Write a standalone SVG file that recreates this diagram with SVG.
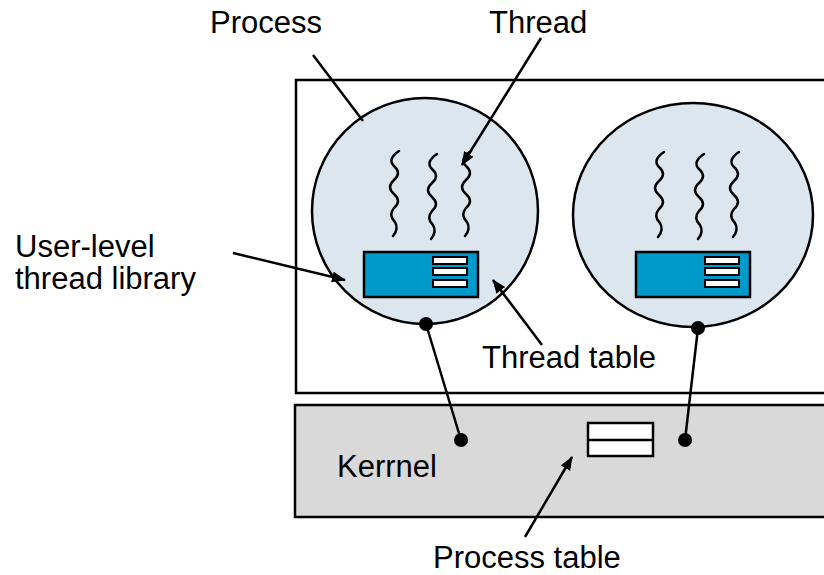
<svg xmlns="http://www.w3.org/2000/svg" width="824" height="575" viewBox="0 0 824 575">
<style>
  text { font-family: "Liberation Sans", Arial, sans-serif; font-size: 31px; fill: #000; }
  .box { stroke: #000; stroke-width: 2.5; }
  .proc { fill: #dce6ee; stroke: #000; stroke-width: 2.5; }
  .thr { fill: none; stroke: #000; stroke-width: 2.5; stroke-linecap: round; }
  .tbl { fill: #0099cc; stroke: #000; stroke-width: 2.5; }
  .bar { fill: #fff; stroke: #000; stroke-width: 2; }
  .ln { stroke: #000; stroke-width: 2.5; fill: none; }
  .arr { marker-end: url(#ah); }
  .dot { fill: #000; }
</style>
<defs>
  <marker id="ah" markerUnits="userSpaceOnUse" markerWidth="14" markerHeight="12" refX="13" refY="5.5" orient="auto">
    <path d="M0,0 L14,5.5 L0,11 z" fill="#000"/>
  </marker>
  <path id="sq" d="M5,0 Q-7,8 0,15 Q8,22 0,29 Q-8,36 0,43 Q8,50 0,57 Q-6,64 1,71 Q5,78 -1,85"/>
  <g id="ptab">
    <rect class="tbl" x="0" y="0" width="114" height="45"/>
    <rect class="bar" x="69" y="5" width="34" height="7"/>
    <rect class="bar" x="69" y="16" width="34" height="7"/>
    <rect class="bar" x="69" y="28" width="34" height="7"/>
  </g>
</defs>

<g id="user-space">
  <rect class="box" x="296" y="80" width="560" height="313" fill="#fff"/>
</g>
<g id="kernel">
  <rect class="box" x="295" y="405" width="560" height="112" fill="#d9d9d9"/>
  <text x="337" y="477">Kerrnel</text>
  <g id="process-table">
    <rect x="588" y="423" width="65" height="33" fill="#fff" stroke="#000" stroke-width="2.5"/>
    <line x1="588" y1="440" x2="653" y2="440" stroke="#000" stroke-width="2.5"/>
  </g>
  <circle class="dot" cx="461" cy="440" r="7"/>
  <circle class="dot" cx="685" cy="440" r="7"/>
</g>

<g id="process1">
  <circle class="proc" cx="425" cy="211" r="113"/>
  <use href="#sq" class="thr" x="394" y="151"/>
  <use href="#sq" class="thr" x="432" y="154"/>
  <use href="#sq" class="thr" x="466" y="151"/>
  <use href="#ptab" x="364" y="252"/>
  <circle class="dot" cx="426" cy="324" r="7"/>
</g>

<g id="process2">
  <ellipse class="proc" cx="693" cy="215" rx="120" ry="112"/>
  <use href="#sq" class="thr" x="659" y="152"/>
  <use href="#sq" class="thr" x="699" y="154"/>
  <use href="#sq" class="thr" x="734" y="152"/>
  <use href="#ptab" x="636" y="252"/>
  <circle class="dot" cx="698" cy="328" r="7"/>
</g>

<g id="labels">
  <text x="210" y="33">Process</text>
  <text x="489" y="33">Thread</text>
  <text x="15" y="257">User-level</text>
  <text x="15" y="289">thread library</text>
  <text x="482" y="368">Thread table</text>
  <text x="433" y="568">Process table</text>
</g>

<g id="connectors">
  <line class="ln" x1="313" y1="55" x2="363" y2="121"/>
  <line class="ln arr" x1="541" y1="38" x2="462" y2="165"/>
  <line class="ln arr" x1="233" y1="253" x2="345" y2="280"/>
  <line class="ln arr" x1="542" y1="345" x2="493" y2="280"/>
  <line class="ln arr" x1="525" y1="537" x2="572" y2="457"/>
  <line class="ln" x1="426" y1="324" x2="461" y2="440"/>
  <line class="ln" x1="698" y1="328" x2="685" y2="440"/>
</g>
</svg>
